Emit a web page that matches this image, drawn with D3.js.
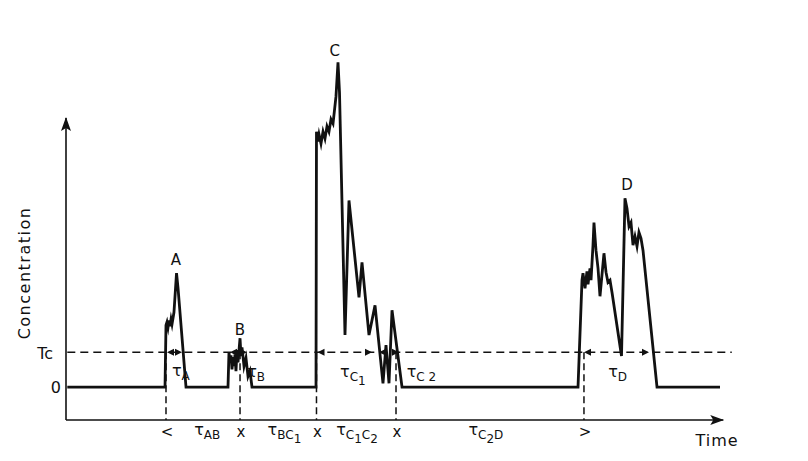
<!DOCTYPE html>
<html>
<head>
<meta charset="utf-8">
<script src="https://cdn.jsdelivr.net/npm/d3@7"></script>
<style>
  html, body { margin: 0; padding: 0; background: #fff; }
  svg text { font-family: "DejaVu Sans", sans-serif; fill: #111; }
</style>
</head>
<body>
<div id="chart"></div>
<script>
// signal trace, time in arbitrary units, concentration in units of Tc
var signalTime = [
  0.2, 15.14, 15.29, 15.44, 15.60, 15.75, 15.90, 16.06, 16.21, 16.51, 16.90, 17.13, 18.35,
  24.77, 24.92, 25.08, 25.23, 25.38, 25.54, 25.69, 25.84, 25.99, 26.15, 26.30, 26.61, 26.76, 26.91, 27.22, 27.52, 27.83, 28.13, 28.44,
  38.23, 38.30, 38.53, 38.69, 38.99, 39.30, 39.60, 39.91, 40.21, 40.52, 40.83, 41.28, 41.59, 41.82, 42.66, 43.27, 44.80, 45.26, 46.33, 47.25, 48.47, 48.93, 49.39, 49.85, 51.38,
  78.29, 78.90, 79.05, 79.36, 79.66, 79.82, 80.12, 80.28, 80.58, 80.73, 81.04, 81.35, 81.65, 82.26, 82.57, 82.87, 83.18, 83.49, 84.94, 85.47, 85.78, 86.09, 86.39, 86.70, 87.00, 87.31, 87.61, 87.92, 88.23, 90.37, 100
];
var signalConc = [
  0, 0, 1.77, 1.86, 1.71, 1.91, 1.74, 1.94, 1.80, 2.14, 3.26, 2.83, 0,
  0, 1.00, 0.71, 0.91, 0.51, 0.86, 0.60, 0.94, 0.46, 1.06, 0.71, 1.40, 0.89, 1.14, 0.60, 0.83, 0.31, 0.46, 0,
  0, 7.31, 7.03, 7.23, 6.97, 7.31, 7.11, 7.46, 7.31, 7.66, 7.54, 8.31, 9.29, 8.43, 1.49, 5.34, 2.57, 3.57, 1.49, 2.34, 0.11, 1.20, 0.11, 2.20, 0,
  0, 3.06, 3.26, 2.83, 3.31, 2.94, 3.40, 3.06, 4.06, 4.71, 3.91, 3.40, 2.60, 3.83, 3.29, 3.00, 3.06, 2.71, 0.89, 5.40, 5.11, 4.60, 4.71, 4.06, 4.31, 4.03, 4.43, 4.26, 3.91, 0, 0
];

var thresholdConc = 1;   // Tc

// peaks
var peakNames = ['A', 'B', 'C', 'D'];
var peakLabelTime = [16.82, 26.6, 41.1, 85.8];
var peakLabelConc = [3.49, 1.49, 9.47, 5.64];

// time spent above Tc
var tauStart = [15.29, 24.92, 38.30, 47.71, 79.05];
var tauEnd = [17.89, 27.83, 46.94, 51.07, 89.30];
var tauLabels = [
  [['τ', 0], ['A', 1]],
  [['τ', 0], ['B', 1]],
  [['τ', 0], ['C', 1], ['1', 2]],
  [['τ', 0], ['C', 1], [' 2', 1]],
  [['τ', 0], ['D', 1]]
];
var tauLabelTime = [16.2, 27.7, 41.9, 52.1, 82.9];
var tauLabelConc = [0.32, 0.28, 0.29, 0.29, 0.29];

// start / end markers on the time axis
var eventTime = [15.29, 26.61, 38.30, 50.46, 79.20];
var eventSymbol = ['<', 'x', 'x', 'x', '>'];

// gaps between events
var gapLabels = [
  [['τ', 0], ['AB', 1]],
  [['τ', 0], ['BC', 1], ['1', 2]],
  [['τ', 0], ['C', 1], ['1', 2], ['C', 1], ['2', 2]],
  [['τ', 0], ['C', 1], ['2', 2], ['D', 1]]
];
var gapLabelTime = [21.6, 33.4, 44.5, 64.2];

var width = 808, height = 461;

var x = d3.scaleLinear().domain([0, 100]).range([66, 720]);
var y = d3.scaleLinear().domain([-0.94, 7.7]).range([420, 118]);

var svg = d3.select('#chart').append('svg')
    .attr('width', width)
    .attr('height', height);

var defs = svg.append('defs');
defs.append('marker')
    .attr('id', 'axisArrow')
    .attr('viewBox', '0 0 14 10')
    .attr('refX', 13).attr('refY', 5)
    .attr('markerWidth', 14).attr('markerHeight', 10)
    .attr('markerUnits', 'userSpaceOnUse')
    .attr('orient', 'auto')
  .append('path')
    .attr('d', 'M0,0 L14,5 L0,10 L3,5 Z')
    .attr('fill', '#111');

// axes
var axisBottom = y.domain()[0];
svg.append('line')
    .attr('x1', x(0)).attr('y1', y(axisBottom))
    .attr('x2', x(100.5)).attr('y2', y(axisBottom))
    .attr('stroke', '#111').attr('stroke-width', 1.6)
    .attr('marker-end', 'url(#axisArrow)');
svg.append('line')
    .attr('x1', x(0)).attr('y1', y(axisBottom))
    .attr('x2', x(0)).attr('y2', y(y.domain()[1]))
    .attr('stroke', '#111').attr('stroke-width', 1.6)
    .attr('marker-end', 'url(#axisArrow)');

// Tc threshold
svg.append('line')
    .attr('x1', x(0.2)).attr('y1', y(thresholdConc))
    .attr('x2', x(101.8)).attr('y2', y(thresholdConc))
    .attr('stroke', '#111').attr('stroke-width', 1.5)
    .attr('stroke-dasharray', '8,5');

// dashed drops from Tc down to the time axis
svg.selectAll('.drop')
    .data(eventTime)
  .enter().append('line')
    .attr('class', 'drop')
    .attr('x1', function(d) { return x(d); })
    .attr('x2', function(d) { return x(d); })
    .attr('y1', y(thresholdConc))
    .attr('y2', y(axisBottom))
    .attr('stroke', '#111').attr('stroke-width', 1.5)
    .attr('stroke-dasharray', '7,4');

// signal
var points = signalTime.map(function(t, i) { return [t, signalConc[i]]; });
var line = d3.line()
    .x(function(d) { return x(d[0]); })
    .y(function(d) { return y(d[1]); });
svg.append('path')
    .datum(points)
    .attr('d', line)
    .attr('fill', 'none')
    .attr('stroke', '#111')
    .attr('stroke-width', 2.8)
    .attr('stroke-linejoin', 'miter')
    .attr('stroke-miterlimit', 6);

// arrowheads marking the tau intervals on the Tc line
function arrowHead(px, py, dir) {
  var len = 7, half = 3.5;
  return 'M' + px + ',' + py +
    'L' + (px - dir * len) + ',' + (py - half) +
    'L' + (px - dir * len) + ',' + (py + half) + 'Z';
}
svg.selectAll('.tauStart')
    .data(tauStart)
  .enter().append('path')
    .attr('d', function(d) { return arrowHead(x(d) + 1, y(thresholdConc), -1); })
    .attr('fill', '#111');
svg.selectAll('.tauEnd')
    .data(tauEnd)
  .enter().append('path')
    .attr('d', function(d) { return arrowHead(x(d) - 1, y(thresholdConc), 1); })
    .attr('fill', '#111');

// multi level subscripts as tspans
function writeLabel(sel, parts, big, small) {
  var level = 0;
  parts.forEach(function(p) {
    var shift = (p[1] - level) * 4;
    sel.append('tspan')
        .attr('dy', shift)
        .style('font-size', (p[1] === 0 ? big : small) + 'px')
        .text(p[0]);
    level = p[1];
  });
}

svg.selectAll('.tauLabel')
    .data(tauLabels)
  .enter().append('text')
    .attr('class', 'tauLabel')
    .attr('x', function(d, i) { return x(tauLabelTime[i]); })
    .attr('y', function(d, i) { return y(tauLabelConc[i]); })
    .each(function(d) { writeLabel(d3.select(this), d, 16, 12); });

svg.selectAll('.gapLabel')
    .data(gapLabels)
  .enter().append('text')
    .attr('class', 'gapLabel')
    .attr('x', function(d, i) { return x(gapLabelTime[i]); })
    .attr('y', 435)
    .attr('text-anchor', 'middle')
    .each(function(d) { writeLabel(d3.select(this), d, 16, 12); });

svg.selectAll('.eventSymbol')
    .data(eventSymbol)
  .enter().append('text')
    .attr('x', function(d, i) { return x(eventTime[i]) + 1; })
    .attr('y', 437)
    .attr('text-anchor', 'middle')
    .style('font-size', '15px')
    .text(function(d) { return d; });

svg.selectAll('.peakLabel')
    .data(peakNames)
  .enter().append('text')
    .attr('x', function(d, i) { return x(peakLabelTime[i]); })
    .attr('y', function(d, i) { return y(peakLabelConc[i]); })
    .attr('text-anchor', 'middle')
    .style('font-size', '15px')
    .text(function(d) { return d; });

// axis labels
svg.append('text')
    .attr('x', 53).attr('y', y(thresholdConc) + 7)
    .attr('text-anchor', 'end')
    .style('font-size', '16px')
    .text('Tc');
svg.append('text')
    .attr('x', 61).attr('y', y(0) + 6)
    .attr('text-anchor', 'end')
    .style('font-size', '16px')
    .text('0');
svg.append('text')
    .attr('transform', 'translate(30,273) rotate(-90)')
    .attr('text-anchor', 'middle')
    .style('font-size', '16px')
    .style('letter-spacing', '1.5px')
    .text('Concentration');
svg.append('text')
    .attr('x', 717).attr('y', 446)
    .attr('text-anchor', 'middle')
    .style('font-size', '16px')
    .style('letter-spacing', '1px')
    .text('Time');
</script>
</body>
</html>
